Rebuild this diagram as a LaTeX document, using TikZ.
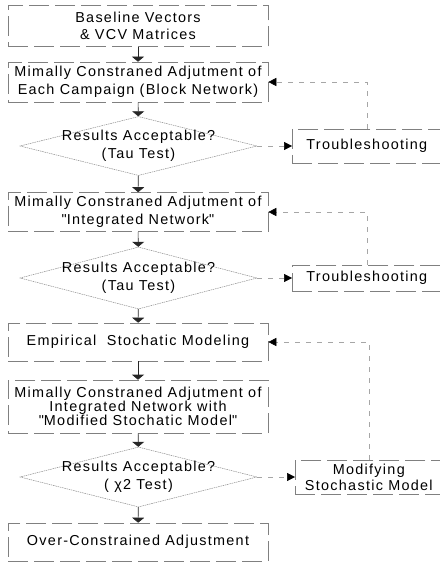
\documentclass[tikz,border=0pt]{standalone}
\usepackage{fontspec}
\setmainfont[LetterSpace=9]{Liberation Sans}
\usetikzlibrary{shapes.geometric, arrows.meta}

\begin{document}
\begin{tikzpicture}[x=1pt, y=-1pt,
  font=\fontsize{14.4}{17.5}\selectfont,
  stepbox/.style={rectangle, draw=black!50, line width=0.6pt, dash pattern=on 20pt off 6pt, minimum width=260pt, align=center, inner sep=0pt},
  sidebox/.style={stepbox, anchor=west, minimum width=165pt},
  decision/.style={diamond, draw=black!45, line width=0.5pt, dash pattern=on 1.5pt off 0.8pt, minimum width=237pt, minimum height=59pt, inner sep=0pt},
  flow/.style={draw=black!85, line width=0.6pt, -{Triangle[width=12pt,length=5pt]}},
  side/.style={draw=black!35, line width=0.5pt, dash pattern=on 5pt off 6pt, -{Triangle[width=8pt,length=8pt,color=black]}}
]
\useasboundingbox (0,0) rectangle (439,564);
% main column
\node[stepbox, minimum height=41pt] (baseline) at (138,26) {Baseline Vectors\\\& VCV Matrices};
\node[stepbox, minimum height=40pt] (adjblock) at (138,82) {Mimally Constraned Adjutment of\\Each Campaign (Block Network)};
\node[decision, label={[align=center]center:Results Acceptable?\\(Tau Test)}] (check1) at (138.5,146) {};
\node[stepbox, minimum height=39pt] (adjint) at (138,212) {Mimally Constraned Adjutment of\\\textquotedbl Integrated Network\textquotedbl};
\node[decision, minimum height=62pt, label={[align=center]center:Results Acceptable?\\(Tau Test)}] (check2) at (138.5,278) {};
\node[stepbox, minimum height=38pt] (empirical) at (138,342) {Empirical\ \ Stochatic Modeling};
\node[stepbox, minimum height=53pt, font=\fontsize{14.4}{14}\selectfont] (adjmod) at (138,406.5) {Mimally Constraned Adjutment of\\Integrated Network with\\\textquotedbl Modified Stochatic Model\textquotedbl};
\node[decision, minimum height=60pt, label={[align=center]center:Results Acceptable?\\( χ2 Test)}] (check3) at (138.5,477) {};
\node[stepbox, minimum height=38pt] (overcon) at (138,542) {Over-Constrained Adjustment};
% side column, right edges run off the page
\node[sidebox, minimum height=34pt, label={[xshift=-8pt]center:Troubleshooting}] (trouble1) at (292,146) {};
\node[sidebox, minimum height=26pt, label={[xshift=-8pt]center:Troubleshooting}] (trouble2) at (292,278) {};
\node[sidebox, minimum height=34pt, label={[xshift=-9pt, align=center, font=\fontsize{14.4}{16}\selectfont]center:Modifying\\Stochastic Model}] (modify) at (295,477) {};

\draw[flow] (baseline) -- (adjblock);
\draw[flow] (adjblock) -- (check1);
\draw[flow] (check1) -- (adjint);
\draw[flow] (adjint) -- (check2);
\draw[flow] (check2) -- (empirical);
\draw[flow] (empirical) -- (adjmod);
\draw[flow] (adjmod) -- (check3);
\draw[flow] (check3) -- (overcon);

\draw[side] (check1.east) -- (trouble1.west);
\draw[side] (check2.east) -- (trouble2.west);
\draw[side] (check3.east) -- (modify.west);
\draw[side] ([xshift=-8pt]trouble1.north) |- (adjblock.east);
\draw[side] ([xshift=-8pt]trouble2.north) |- (adjint.east);
\draw[side] ([xshift=-9pt]modify.north) |- (empirical.east);
\end{tikzpicture}
\end{document}
